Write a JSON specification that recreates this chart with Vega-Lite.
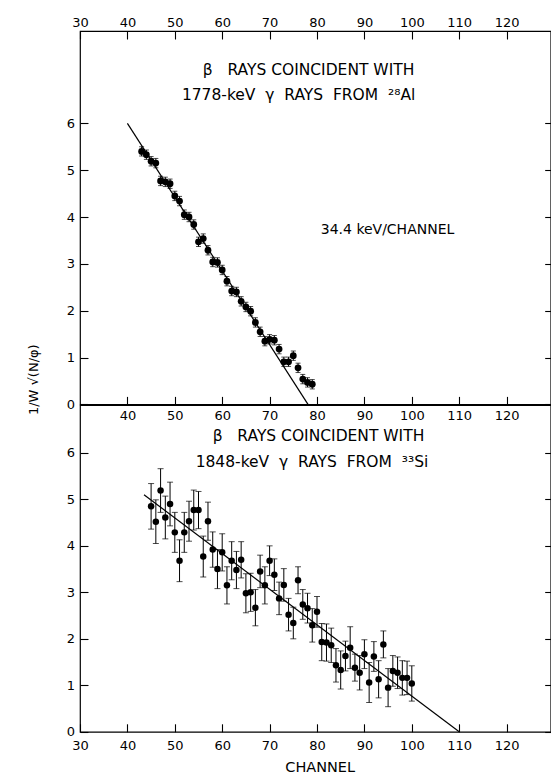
{
  "$schema": "https://vega.github.io/schema/vega-lite/v6.json",
  "padding": {"left": 26, "top": 15, "right": 0, "bottom": 0},
  "background": "white",
  "config": {
    "font": "DejaVu Sans",
    "view": {"stroke": "black", "strokeWidth": 1.2},
    "axis": {
      "domain": false, "grid": false, "tickColor": "black", "tickWidth": 1.1,
      "labelColor": "black", "titleColor": "black", "labelFont": "DejaVu Sans",
      "labelFontSize": 13, "titleFont": "DejaVu Sans", "titleFontWeight": "normal",
      "labelFlush": false, "labelOverlap": false, "labelAngle": 0
    }
  },
  "spacing": 0,
  "bounds": "flush",
  "datasets": {
    "top": [
      {"ch": 43, "y": 5.40, "lo": 5.30, "hi": 5.50},
      {"ch": 44, "y": 5.33, "lo": 5.23, "hi": 5.43},
      {"ch": 45, "y": 5.19, "lo": 5.09, "hi": 5.29},
      {"ch": 46, "y": 5.15, "lo": 5.05, "hi": 5.25},
      {"ch": 47, "y": 4.77, "lo": 4.67, "hi": 4.87},
      {"ch": 48, "y": 4.75, "lo": 4.65, "hi": 4.85},
      {"ch": 49, "y": 4.71, "lo": 4.61, "hi": 4.81},
      {"ch": 50, "y": 4.45, "lo": 4.35, "hi": 4.55},
      {"ch": 51, "y": 4.34, "lo": 4.24, "hi": 4.44},
      {"ch": 52, "y": 4.05, "lo": 3.95, "hi": 4.15},
      {"ch": 53, "y": 4.00, "lo": 3.90, "hi": 4.10},
      {"ch": 54, "y": 3.84, "lo": 3.74, "hi": 3.94},
      {"ch": 55, "y": 3.47, "lo": 3.37, "hi": 3.57},
      {"ch": 56, "y": 3.54, "lo": 3.44, "hi": 3.64},
      {"ch": 57, "y": 3.29, "lo": 3.19, "hi": 3.39},
      {"ch": 58, "y": 3.04, "lo": 2.94, "hi": 3.14},
      {"ch": 59, "y": 3.03, "lo": 2.93, "hi": 3.13},
      {"ch": 60, "y": 2.87, "lo": 2.77, "hi": 2.97},
      {"ch": 61, "y": 2.63, "lo": 2.53, "hi": 2.73},
      {"ch": 62, "y": 2.42, "lo": 2.32, "hi": 2.52},
      {"ch": 63, "y": 2.40, "lo": 2.30, "hi": 2.50},
      {"ch": 64, "y": 2.20, "lo": 2.10, "hi": 2.30},
      {"ch": 65, "y": 2.08, "lo": 1.98, "hi": 2.18},
      {"ch": 66, "y": 1.99, "lo": 1.89, "hi": 2.09},
      {"ch": 67, "y": 1.75, "lo": 1.65, "hi": 1.85},
      {"ch": 68, "y": 1.55, "lo": 1.45, "hi": 1.65},
      {"ch": 69, "y": 1.35, "lo": 1.25, "hi": 1.45},
      {"ch": 70, "y": 1.39, "lo": 1.29, "hi": 1.49},
      {"ch": 71, "y": 1.37, "lo": 1.27, "hi": 1.47},
      {"ch": 72, "y": 1.18, "lo": 1.08, "hi": 1.28},
      {"ch": 73, "y": 0.91, "lo": 0.81, "hi": 1.01},
      {"ch": 74, "y": 0.91, "lo": 0.81, "hi": 1.01},
      {"ch": 75, "y": 1.04, "lo": 0.94, "hi": 1.14},
      {"ch": 76, "y": 0.78, "lo": 0.68, "hi": 0.88},
      {"ch": 77, "y": 0.54, "lo": 0.44, "hi": 0.64},
      {"ch": 78, "y": 0.47, "lo": 0.37, "hi": 0.57},
      {"ch": 79, "y": 0.43, "lo": 0.33, "hi": 0.53}
    ],
    "bottom": [
      {"ch": 45, "y": 4.85, "lo": 4.36, "hi": 5.34},
      {"ch": 46, "y": 4.52, "lo": 4.05, "hi": 4.99},
      {"ch": 47, "y": 5.19, "lo": 4.72, "hi": 5.66},
      {"ch": 48, "y": 4.61, "lo": 4.15, "hi": 5.07},
      {"ch": 49, "y": 4.90, "lo": 4.43, "hi": 5.37},
      {"ch": 50, "y": 4.29, "lo": 3.86, "hi": 4.72},
      {"ch": 51, "y": 3.68, "lo": 3.23, "hi": 4.13},
      {"ch": 52, "y": 4.29, "lo": 3.86, "hi": 4.72},
      {"ch": 53, "y": 4.53, "lo": 4.10, "hi": 4.96},
      {"ch": 54, "y": 4.77, "lo": 4.34, "hi": 5.20},
      {"ch": 55, "y": 4.77, "lo": 4.37, "hi": 5.17},
      {"ch": 56, "y": 3.77, "lo": 3.33, "hi": 4.21},
      {"ch": 57, "y": 4.53, "lo": 4.12, "hi": 4.94},
      {"ch": 58, "y": 3.92, "lo": 3.54, "hi": 4.30},
      {"ch": 59, "y": 3.50, "lo": 3.08, "hi": 3.92},
      {"ch": 60, "y": 3.86, "lo": 3.46, "hi": 4.26},
      {"ch": 61, "y": 3.15, "lo": 2.75, "hi": 3.55},
      {"ch": 62, "y": 3.68, "lo": 3.27, "hi": 4.09},
      {"ch": 63, "y": 3.48, "lo": 3.08, "hi": 3.88},
      {"ch": 64, "y": 3.70, "lo": 3.31, "hi": 4.09},
      {"ch": 65, "y": 2.98, "lo": 2.56, "hi": 3.40},
      {"ch": 66, "y": 3.00, "lo": 2.59, "hi": 3.41},
      {"ch": 67, "y": 2.67, "lo": 2.28, "hi": 3.06},
      {"ch": 68, "y": 3.45, "lo": 3.10, "hi": 3.80},
      {"ch": 69, "y": 3.15, "lo": 2.75, "hi": 3.55},
      {"ch": 70, "y": 3.68, "lo": 3.36, "hi": 4.00},
      {"ch": 71, "y": 3.38, "lo": 3.04, "hi": 3.72},
      {"ch": 72, "y": 2.87, "lo": 2.52, "hi": 3.22},
      {"ch": 73, "y": 3.16, "lo": 2.81, "hi": 3.51},
      {"ch": 74, "y": 2.52, "lo": 2.17, "hi": 2.87},
      {"ch": 75, "y": 2.34, "lo": 2.00, "hi": 2.68},
      {"ch": 76, "y": 3.26, "lo": 2.97, "hi": 3.55},
      {"ch": 77, "y": 2.74, "lo": 2.42, "hi": 3.06},
      {"ch": 78, "y": 2.66, "lo": 2.34, "hi": 2.98},
      {"ch": 79, "y": 2.29, "lo": 1.93, "hi": 2.65},
      {"ch": 80, "y": 2.58, "lo": 2.25, "hi": 2.91},
      {"ch": 81, "y": 1.93, "lo": 1.53, "hi": 2.33},
      {"ch": 82, "y": 1.92, "lo": 1.52, "hi": 2.32},
      {"ch": 83, "y": 1.86, "lo": 1.49, "hi": 2.23},
      {"ch": 84, "y": 1.43, "lo": 1.07, "hi": 1.79},
      {"ch": 85, "y": 1.33, "lo": 0.92, "hi": 1.74},
      {"ch": 86, "y": 1.63, "lo": 1.31, "hi": 1.95},
      {"ch": 87, "y": 1.81, "lo": 1.36, "hi": 2.26},
      {"ch": 88, "y": 1.38, "lo": 1.09, "hi": 1.67},
      {"ch": 89, "y": 1.27, "lo": 0.90, "hi": 1.64},
      {"ch": 90, "y": 1.67, "lo": 1.36, "hi": 1.98},
      {"ch": 91, "y": 1.06, "lo": 0.63, "hi": 1.49},
      {"ch": 92, "y": 1.62, "lo": 1.30, "hi": 1.94},
      {"ch": 93, "y": 1.13, "lo": 0.73, "hi": 1.53},
      {"ch": 94, "y": 1.88, "lo": 1.59, "hi": 2.17},
      {"ch": 95, "y": 0.95, "lo": 0.54, "hi": 1.36},
      {"ch": 96, "y": 1.31, "lo": 0.98, "hi": 1.64},
      {"ch": 97, "y": 1.27, "lo": 0.93, "hi": 1.61},
      {"ch": 98, "y": 1.16, "lo": 0.79, "hi": 1.53},
      {"ch": 99, "y": 1.16, "lo": 0.80, "hi": 1.52},
      {"ch": 100, "y": 1.04, "lo": 0.66, "hi": 1.42}
    ],
    "topfit": [{"ch": 40, "y": 6.0}, {"ch": 78.1, "y": 0}],
    "botfit": [{"ch": 43.5, "y": 5.1}, {"ch": 110, "y": 0}],
    "toptext": [
      {"ch": 55.9, "y": 7.14, "label": "β\u00a0\u00a0\u00a0RAYS\u00a0COINCIDENT\u00a0WITH"},
      {"ch": 51.5, "y": 6.61, "label": "1778-keV\u00a0\u00a0γ\u00a0\u00a0RAYS\u00a0\u00a0FROM\u00a0\u00a0²⁸Al"}
    ],
    "toptext2": [
      {"ch": 80.8, "y": 3.73, "label": "34.4 keV/CHANNEL"}
    ],
    "bottext": [
      {"ch": 58.0, "y": 6.36, "label": "β\u00a0\u00a0\u00a0RAYS\u00a0COINCIDENT\u00a0WITH"},
      {"ch": 54.4, "y": 5.80, "label": "1848-keV\u00a0\u00a0γ\u00a0\u00a0RAYS\u00a0\u00a0FROM\u00a0\u00a0³³Si"}
    ]
  },
  "vconcat": [
    {
      "width": 470.7,
      "height": 373.4,
      "resolve": {"axis": {"x": "independent", "y": "independent"}},
      "layer": [
        {
          "data": {"name": "topfit"},
          "mark": {"type": "line", "color": "black", "strokeWidth": 1.2},
          "encoding": {
            "x": {"field": "ch", "type": "quantitative",
              "scale": {"domain": [30, 129.3], "nice": false, "zero": false},
              "axis": {"orient": "top", "values": [30, 40, 50, 60, 70, 80, 90, 100, 110, 120], "tickSize": -8, "labelPadding": 9.6, "title": null}},
            "y": {"field": "y", "type": "quantitative",
              "scale": {"domain": [0, 7.97], "nice": false},
              "axis": {"orient": "left", "values": [0, 1, 2, 3, 4, 5, 6], "tickSize": -8, "labelPadding": 13.5,
                "title": "1/W √(N/φ)", "titleAngle": 270, "titleX": -46.8, "titleY": 348.2,
                "titleAlign": "center", "titleBaseline": "middle", "titleFontSize": 13}}
          }
        },
        {
          "data": {"name": "top"},
          "mark": {"type": "rule", "color": "black", "strokeWidth": 1},
          "encoding": {
            "x": {"field": "ch", "type": "quantitative",
              "axis": {"orient": "bottom", "values": [40, 50, 60, 70, 80, 90, 100, 110, 120], "tickSize": -8, "labelPadding": 13.5, "title": null}},
            "y": {"field": "lo", "type": "quantitative",
              "axis": {"orient": "right", "values": [0, 1, 2, 3, 4, 5, 6], "tickSize": -6, "labels": false, "title": null}},
            "y2": {"field": "hi"}
          }
        },
        {
          "data": {"name": "top"},
          "mark": {"type": "tick", "orient": "horizontal", "color": "black", "size": 5, "thickness": 1},
          "encoding": {
            "x": {"field": "ch", "type": "quantitative", "axis": null},
            "y": {"field": "hi", "type": "quantitative", "axis": null}
          }
        },
        {
          "data": {"name": "top"},
          "mark": {"type": "tick", "orient": "horizontal", "color": "black", "size": 5, "thickness": 1},
          "encoding": {
            "x": {"field": "ch", "type": "quantitative", "axis": null},
            "y": {"field": "lo", "type": "quantitative", "axis": null}
          }
        },
        {
          "data": {"name": "top"},
          "mark": {"type": "circle", "color": "black", "opacity": 1, "size": 46},
          "encoding": {
            "x": {"field": "ch", "type": "quantitative", "axis": null},
            "y": {"field": "y", "type": "quantitative", "axis": null}
          }
        },
        {
          "data": {"name": "toptext"},
          "mark": {"type": "text", "align": "left", "baseline": "middle", "fontSize": 15.5, "color": "black"},
          "encoding": {
            "x": {"field": "ch", "type": "quantitative", "axis": null},
            "y": {"field": "y", "type": "quantitative", "axis": null},
            "text": {"field": "label"}
          }
        },
        {
          "data": {"name": "toptext2"},
          "mark": {"type": "text", "align": "left", "baseline": "middle", "fontSize": 14, "color": "black"},
          "encoding": {
            "x": {"field": "ch", "type": "quantitative", "axis": null},
            "y": {"field": "y", "type": "quantitative", "axis": null},
            "text": {"field": "label"}
          }
        }
      ]
    },
    {
      "width": 470.7,
      "height": 326.8,
      "resolve": {"axis": {"x": "independent", "y": "independent"}},
      "layer": [
        {
          "data": {"name": "botfit"},
          "mark": {"type": "line", "color": "black", "strokeWidth": 1.2},
          "encoding": {
            "x": {"field": "ch", "type": "quantitative",
              "scale": {"domain": [30, 129.3], "nice": false, "zero": false},
              "axis": {"orient": "bottom", "values": [30, 40, 50, 60, 70, 80, 90, 100, 110, 120], "tickSize": -8, "labelPadding": 15.7,
                "title": "CHANNEL", "titleFontSize": 14.5, "titleX": 239.7, "titleY": 36, "titleAlign": "center", "titleBaseline": "middle"}},
            "y": {"field": "y", "type": "quantitative",
              "scale": {"domain": [0, 7.03], "nice": false},
              "axis": {"orient": "left", "values": [0, 1, 2, 3, 4, 5, 6], "tickSize": -8, "labelPadding": 13.5, "title": null}}
          }
        },
        {
          "data": {"name": "bottom"},
          "mark": {"type": "rule", "color": "black", "strokeWidth": 1},
          "encoding": {
            "x": {"field": "ch", "type": "quantitative", "axis": null},
            "y": {"field": "lo", "type": "quantitative",
              "axis": {"orient": "right", "values": [0, 1, 2, 3, 4, 5, 6], "tickSize": -6, "labels": false, "title": null}},
            "y2": {"field": "hi"}
          }
        },
        {
          "data": {"name": "bottom"},
          "mark": {"type": "tick", "orient": "horizontal", "color": "black", "size": 6, "thickness": 1},
          "encoding": {
            "x": {"field": "ch", "type": "quantitative", "axis": null},
            "y": {"field": "hi", "type": "quantitative", "axis": null}
          }
        },
        {
          "data": {"name": "bottom"},
          "mark": {"type": "tick", "orient": "horizontal", "color": "black", "size": 6, "thickness": 1},
          "encoding": {
            "x": {"field": "ch", "type": "quantitative", "axis": null},
            "y": {"field": "lo", "type": "quantitative", "axis": null}
          }
        },
        {
          "data": {"name": "bottom"},
          "mark": {"type": "circle", "color": "black", "opacity": 1, "size": 42},
          "encoding": {
            "x": {"field": "ch", "type": "quantitative", "axis": null},
            "y": {"field": "y", "type": "quantitative", "axis": null}
          }
        },
        {
          "data": {"name": "bottext"},
          "mark": {"type": "text", "align": "left", "baseline": "middle", "fontSize": 15.5, "color": "black"},
          "encoding": {
            "x": {"field": "ch", "type": "quantitative", "axis": null},
            "y": {"field": "y", "type": "quantitative", "axis": null},
            "text": {"field": "label"}
          }
        }
      ]
    }
  ]
}
